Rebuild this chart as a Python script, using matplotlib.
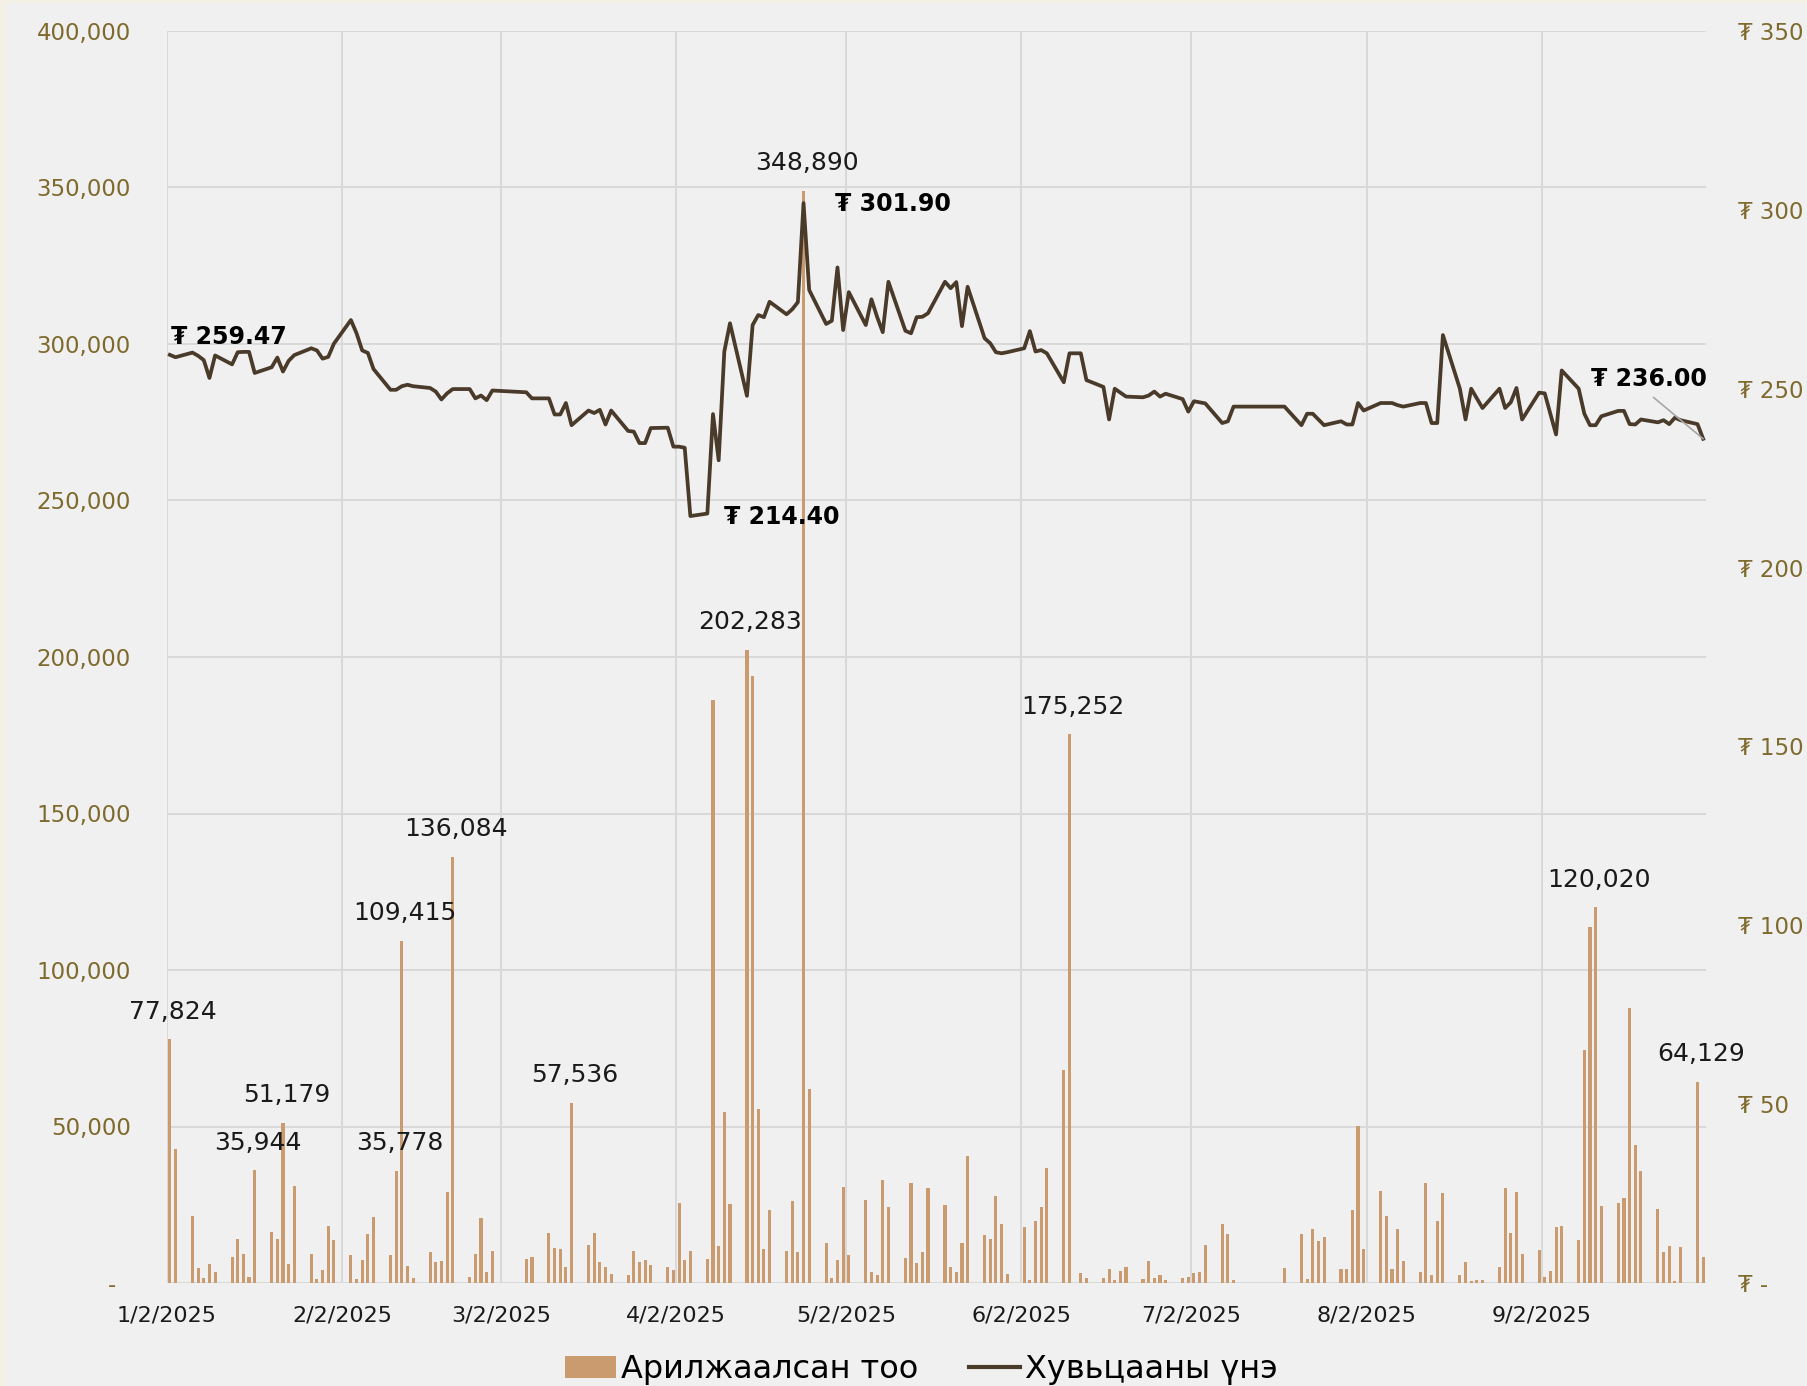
import matplotlib
matplotlib.use('Agg')
import matplotlib.pyplot as plt
import matplotlib.dates as mdates
import matplotlib.ticker as mticker
from matplotlib.patches import Rectangle, Patch
from matplotlib.lines import Line2D
import pandas as pd

plt.rcParams['font.family'] = ['DejaVu Sans']

# no-trade weekdays (Tsagaan Sar, Naadam, etc.)
holidays = ['2025-03-03', '2025-03-04', '2025-03-05', '2025-06-11',
            '2025-07-10', '2025-07-11', '2025-07-14', '2025-07-15',
            '2025-07-16', '2025-07-17']

# traded volume per trading day, month by month
vol_jan = [77824, 42800, 21400, 4700, 1700, 6150, 3600, 8300, 14000, 9300, 2000,
           35944, 16400, 13900, 51179, 6000, 30900, 9400, 1300, 4000, 18100, 13800]
vol_feb = [8800, 1300, 7200, 15500, 21100, 9100, 35778, 109415, 5400, 1500,
           9800, 6800, 6900, 29000, 136084, 1900, 9400, 20700, 3400, 10300]
vol_mar = [7600, 8400, 16100, 11100, 10900, 5200, 57536, 12200, 16100, 6800,
           5000, 3000, 2700, 10300, 6700, 7400, 5600, 5100]
vol_apr = [4000, 25400, 7300, 10100, 7800, 186300, 11700, 54700, 25100, 202283,
           194000, 55700, 11000, 23400, 10100, 26200, 9800, 348890, 62100, 12700,
           1600, 7400]
vol_may = [30800, 8800, 26400, 3500, 2700, 32900, 24400, 8000, 31900, 6400, 9800,
           30500, 24900, 5100, 3600, 12800, 40500, 15200, 14100, 27800, 18700, 3000]
vol_jun = [17800, 1000, 19800, 24400, 36900, 68200, 175252, 3200, 1600, 1600,
           4500, 1000, 3800, 5000, 1300, 7100, 1500, 2700, 1000, 1500]
vol_jul = [1800, 3300, 3600, 12100, 18700, 15500, 1000, 4900, 15800, 1400, 17200,
           13500, 14600, 4500, 4400, 23200, 50200]
vol_aug = [10900, 29400, 21500, 4600, 17100, 7100, 3500, 32100, 2400, 19800, 28800,
           2500, 6600, 700, 800, 900, 5200, 30500, 15900, 29100, 9300]
vol_sep = [10600, 1800, 3700, 18000, 18200, 13800, 74600, 113600, 120020, 24700,
           25500, 27100, 87800, 44100, 35700, 23700, 10000, 11900, 500, 11600,
           64129, 8400]

# closing price per trading day
px_jan = [259.47, 258.8, 260.1, 259.2, 258.0, 253.0, 259.3, 256.8, 260.2, 260.3, 260.3,
          254.4, 256.0, 258.7, 254.8, 257.8, 259.4, 261.3, 260.7, 258.4, 258.9, 262.6]
px_feb = [269.2, 265.5, 260.7, 260.0, 255.5, 249.7, 249.7, 250.7, 251.1, 250.7,
          250.2, 249.2, 247.0, 248.7, 249.9, 249.9, 247.3, 248.1, 246.8, 249.5]
px_mar = [249.0, 247.3, 247.3, 242.8, 242.8, 246.0, 239.8, 243.9, 243.2, 244.1,
          240.0, 243.9, 238.2, 238.0, 234.8, 234.8, 239.0, 239.1]
px_apr = [233.8, 233.8, 233.5, 214.4, 215.1, 242.9, 230.0, 260.4, 268.3, 248.0,
          267.8, 270.6, 270.0, 274.3, 270.8, 272.2, 274.2, 301.9, 277.6, 268.1,
          269.0, 283.9]
px_may = [266.4, 277.0, 267.8, 275.0, 270.1, 265.8, 279.9, 266.2, 265.5, 270.0, 270.1,
          271.1, 279.9, 278.1, 279.8, 267.5, 278.5, 264.1, 262.7, 260.2, 259.9, 260.2]
px_jun = [261.3, 266.1, 260.4, 260.8, 259.9, 251.8, 259.9, 259.9, 252.4, 250.5,
          241.4, 250.0, 248.9, 247.8, 247.6, 248.1, 249.2, 247.8, 248.6, 247.1]
px_jul = [243.6, 246.5, 246.2, 245.9, 240.4, 240.9, 245.0, 245.0, 239.8, 243.0,
          243.0, 241.4, 239.8, 240.9, 240.0, 240.0, 246.0]
px_aug = [243.9, 246.0, 246.0, 246.0, 245.4, 245.0, 246.0, 246.0, 240.4, 240.4, 265.0,
          250.0, 241.4, 250.0, 247.3, 244.6, 250.0, 244.6, 246.2, 250.2, 241.4]
px_sep = [248.9, 248.7, 243.0, 237.2, 255.1, 250.0, 243.0, 239.8, 239.8, 242.3,
          243.8, 243.8, 240.1, 240.0, 241.4, 240.6, 241.2, 240.1, 241.9, 241.2,
          240.1, 236.0]

# which bars get a value label
vol_label_dates = ['2025-01-02', '2025-01-17', '2025-01-22', '2025-02-11',
                   '2025-02-12', '2025-02-21', '2025-03-14', '2025-04-14',
                   '2025-04-24', '2025-06-10', '2025-09-11', '2025-09-29']

tick_months = [1, 2, 3, 4, 5, 6, 7, 8, 9]

days = pd.bdate_range('2025-01-02', '2025-09-30')
days = days[~days.isin(pd.to_datetime(holidays))]
volumes = vol_jan + vol_feb + vol_mar + vol_apr + vol_may + vol_jun + vol_jul + vol_aug + vol_sep
prices = px_jan + px_feb + px_mar + px_apr + px_may + px_jun + px_jul + px_aug + px_sep
df = pd.DataFrame({'vol': volumes, 'px': prices}, index=days)

bar_color = '#C99B6E'
line_color = '#4A3A2A'
tick_color = '#7F6A2E'
grid_color = '#D9D9D9'

x = mdates.date2num(df.index) + 0.5

fig = plt.figure(figsize=(18.07, 13.86), dpi=100)
fig.patch.set_facecolor('#F4F0E5')
fig.add_artist(Rectangle((6 / 1807, 0), 1, 1 - 3 / 1386, transform=fig.transFigure,
                         facecolor='#F0F0F0', edgecolor='none', zorder=-10))

ax = fig.add_axes([167 / 1807, 1 - 1283 / 1386, (1706 - 167) / 1807, (1283 - 31) / 1386])
ax.set_facecolor('#F0F0F0')
ax2 = ax.twinx()

ax.bar(x, df['vol'], width=0.55, color=bar_color, zorder=2)
ax2.plot(x, df['px'], color=line_color, lw=2.7, zorder=3)

ax.set_xlim(mdates.date2num(pd.Timestamp('2025-01-02')), mdates.date2num(pd.Timestamp('2025-10-01')))
ax.set_ylim(0, 400000)
ax2.set_ylim(0, 350)

ax.set_axisbelow(True)
ax.grid(True, color=grid_color, lw=1.4)
ax.yaxis.set_major_locator(mticker.MultipleLocator(50000))
ax2.yaxis.set_major_locator(mticker.MultipleLocator(50))
ax.yaxis.set_major_formatter(mticker.FuncFormatter(lambda v, p: '-  ' if v == 0 else f'{v:,.0f}'))
ax2.yaxis.set_major_formatter(mticker.FuncFormatter(lambda v, p: '₮ -' if v == 0 else f'₮ {v:,.0f}'))

ticks = [mdates.date2num(pd.Timestamp(2025, m, 2)) for m in tick_months]
ax.set_xticks(ticks)
ax.set_xticklabels([f'{m}/2/2025' for m in tick_months])

for a in (ax, ax2):
    for s in a.spines.values():
        s.set_visible(False)
ax.tick_params(axis='y', length=0, pad=26, labelsize=16.5, labelcolor=tick_color)
ax.tick_params(axis='x', length=0, pad=16, labelsize=16, labelcolor='#1A1A1A')
ax2.tick_params(axis='y', length=0, pad=23, labelsize=16.5, labelcolor=tick_color)

# volume labels
for d in vol_label_dates:
    ts = pd.Timestamp(d)
    v = df.loc[ts, 'vol']
    ax.annotate(f'{v:,.0f}', xy=(mdates.date2num(ts) + 0.5, v), xytext=(2.5, 20),
                textcoords='offset points', ha='center', va='center',
                fontsize=18, color='#1A1A1A', zorder=5)

# price labels
def px_at(d):
    ts = pd.Timestamp(d)
    return mdates.date2num(ts) + 0.5, df.loc[ts, 'px']

xy = px_at('2025-01-02')
ax2.annotate(f'₮ {xy[1]:.2f}', xy=xy, xytext=(1, 12.5), textcoords='offset points',
             ha='left', va='center', fontsize=17, fontweight='bold', color='black')
xy = px_at('2025-04-24')
ax2.annotate(f'₮ {xy[1]:.2f}', xy=xy, xytext=(23, -1), textcoords='offset points',
             ha='left', va='center', fontsize=17, fontweight='bold', color='black')
xy = px_at('2025-04-04')
ax2.annotate(f'₮ {xy[1]:.2f}', xy=xy, xytext=(24, -1), textcoords='offset points',
             ha='left', va='center', fontsize=17, fontweight='bold', color='black')
xy = px_at('2025-09-30')
ax2.annotate(f'₮ {xy[1]:.2f}', xy=xy, xytext=(3, 43), textcoords='offset points',
             ha='right', va='center', fontsize=17, fontweight='bold', color='black',
             arrowprops=dict(arrowstyle='-', color='#A6A6A6', lw=1.2,
                             relpos=(0.47, 0), shrinkA=4, shrinkB=0))

handles = [Patch(facecolor=bar_color, edgecolor='none'),
           Line2D([], [], color=line_color, lw=3)]
fig.legend(handles, ['Арилжаалсан тоо', 'Хувьцааны үнэ'], loc='center',
           bbox_to_anchor=(0.51, 0.012), ncol=2, frameon=False, fontsize=23,
           handlelength=1.6, handleheight=0.7, handletextpad=0.15, columnspacing=1.6)

fig.savefig('out.png', dpi=100, facecolor=fig.get_facecolor())
